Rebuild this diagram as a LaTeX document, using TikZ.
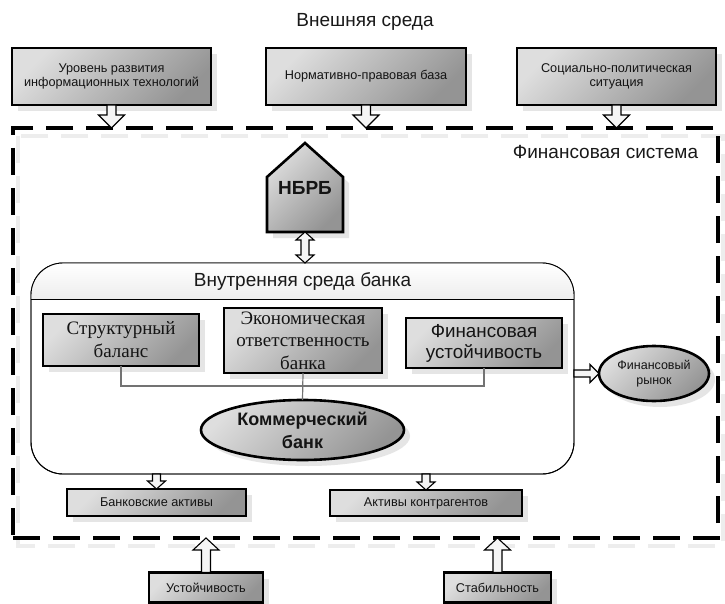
\documentclass[tikz,border=0pt]{standalone}
\usepackage{fontspec}
\setmainfont{Liberation Sans}
\newfontfamily\serifcyr{Liberation Serif}
\usetikzlibrary{calc,shapes.geometric,shadows,backgrounds}
\tikzset{
  shd/.style={drop shadow={shadow xshift=6pt,shadow yshift=-6pt,fill=black!10,opacity=1,draw=none}},
  gbox/.style={draw=black,line width=2.6pt,top color=black!13,bottom color=black!42,shading angle=45,
    shd,align=center,inner sep=1pt,outer sep=0pt,text=black!92},
  gell/.style={gbox,ellipse},
  smalltxt/.style={font=\fontsize{12.7}{13.6}\selectfont},
  titletxt/.style={font=\fontsize{19}{22}\selectfont,text=black!90,inner sep=0pt},
  conn/.style={draw=black!55,line width=1.2pt},
  arr/.style={draw=black,line width=1.1pt,fill=black!4},
  barrow/.style n args={3}{to path={let \p1=(\tikztostart),\p2=(\tikztotarget),
      \n1={atan2(\y2-\y1,\x2-\x1)},\n2={veclen(\x2-\x1,\y2-\y1)} in
      ($(\p1)+(\n1+90:#1)$) -- ($(\p1)+(\n1:\n2-#3)+(\n1+90:#1)$) -- ($(\p1)+(\n1:\n2-#3)+(\n1+90:#2)$)
      -- (\p2) -- ($(\p1)+(\n1:\n2-#3)+(\n1-90:#2)$) -- ($(\p1)+(\n1:\n2-#3)+(\n1-90:#1)$)
      -- ($(\p1)+(\n1-90:#1)$) -- cycle}},
  dbarrow/.style n args={3}{to path={let \p1=(\tikztostart),\p2=(\tikztotarget),
      \n1={atan2(\y2-\y1,\x2-\x1)},\n2={veclen(\x2-\x1,\y2-\y1)} in
      ($(\p1)+(\n1:#3)+(\n1+90:#1)$) -- ($(\p1)+(\n1:\n2-#3)+(\n1+90:#1)$) -- ($(\p1)+(\n1:\n2-#3)+(\n1+90:#2)$)
      -- (\p2) -- ($(\p1)+(\n1:\n2-#3)+(\n1-90:#2)$) -- ($(\p1)+(\n1:\n2-#3)+(\n1-90:#1)$)
      -- ($(\p1)+(\n1:#3)+(\n1-90:#1)$) -- ($(\p1)+(\n1:#3)+(\n1-90:#2)$) -- (\p1)
      -- ($(\p1)+(\n1:#3)+(\n1+90:#2)$) -- cycle}},
  framebox/.style={draw=black,line width=3.6pt,dash pattern=on 27pt off 13pt,inner sep=0pt,outer sep=0pt},
}
\begin{document}
\begin{tikzpicture}[x=1pt,y=-1pt]
\useasboundingbox (0,0) rectangle (725,604);
\begin{scope}[on background layer]
\fill[white] (0,0) rectangle (725,604);
\end{scope}

% dashed frame (financial system)
\draw[black!7,line width=3.6pt,dash pattern=on 27pt off 13pt] (18,136) rectangle (723,546);
\node[framebox,minimum width=705,minimum height=410] (fr) at (365.5,333) {};

% titles
\node[titletxt] (ext) at (365,22) {Внешняя среда};
\node[titletxt] (fs) at (605.5,152) {Финансовая система};

% external factors
\node[gbox,smalltxt,minimum width=199,minimum height=57] (b1) at (111.5,76.5) {Уровень развития\\информационных технологий};
\node[gbox,smalltxt,minimum width=200,minimum height=57] (b2) at (366,76.5) {Нормативно-правовая база};
\node[gbox,smalltxt,minimum width=199,minimum height=57] (b3) at (616.5,76.5) {Социально-политическая\\ситуация};

\draw[arr] (b1.south) to[barrow={4.5pt}{13pt}{13pt}] (b1.south |- fr.north);
\draw[arr] (b2.south) to[barrow={4.5pt}{13pt}{13pt}] (b2.south |- fr.north);
\draw[arr] (b3.south) to[barrow={4.5pt}{13pt}{13pt}] (b3.south |- fr.north);

% NBRB house
\node[minimum width=76,minimum height=89,inner sep=0pt,outer sep=0pt,
      font=\fontsize{19}{22}\selectfont\bfseries,text=black!92] (nbrb) at (305,187.5) {\raisebox{-3pt}{НБРБ}};
\begin{scope}[on background layer]
\draw[line width=2.6pt,top color=black!13,bottom color=black!42,shading angle=45,shd,line join=miter]
  (nbrb.south west) -- ($(nbrb.south west)+(0,-55)$) -- (nbrb.north) -- ($(nbrb.south east)+(0,-55)$)
  -- (nbrb.south east) -- cycle;
\end{scope}

% inner environment of bank
\node[draw=black,line width=0.9pt,rounded corners=32pt,fill=white,minimum width=543,minimum height=211,
      inner sep=0pt,outer sep=0pt] (inner) at (302.5,368.5) {};
\begin{scope}
\clip[rounded corners=32pt] (inner.north west) rectangle (inner.south east);
\shade[top color=white,bottom color=black!7] (inner.north west) rectangle ($(inner.north east)+(0,36)$);
\end{scope}
\draw[line width=0.9pt] ($(inner.north west)+(0,36)$) -- ($(inner.north east)+(0,36)$);
\draw[line width=0.9pt,rounded corners=32pt] (inner.north west) rectangle (inner.south east);
\node[titletxt] (ist) at (302.5,282) {Внутренняя среда банка};

\draw[arr] (nbrb.south) to[dbarrow={4pt}{9pt}{8pt}] (nbrb.south |- inner.north);

% inner boxes
\node[gbox,minimum width=156,minimum height=52,font=\serifcyr\fontsize{19}{23}\selectfont] (s1) at (121,340) {Структурный\\баланс};
\node[gbox,minimum width=158,minimum height=65,font=\serifcyr\fontsize{19}{22.5}\selectfont] (e) at (303,340.5) {Экономическая\\ответственность\\банка};
\node[gbox,minimum width=156,minimum height=50,font=\fontsize{18.8}{21}\selectfont] (s3) at (484,343) {Финансовая\\устойчивость};

\node[gell,minimum width=203,minimum height=60,font=\fontsize{18}{23}\selectfont\bfseries] (kb) at (302.5,430) {Коммерческий\\банк};

\coordinate (hj) at (302.5,386);
\draw[conn] (s1.south) |- (hj) -| (s3.south);
\draw[conn] (e.south) -- (kb.north);

% financial market
\node[gell,minimum width=110,minimum height=55,font=\fontsize{12.5}{15}\selectfont] (finr) at (654,373.5) {Финансовый\\рынок};
\draw[arr] (inner.east |- finr.west) to[barrow={3.5pt}{9pt}{9pt}] (finr.west);

% assets
\node[gbox,smalltxt,minimum width=179,minimum height=27] (ba) at (156.5,502.5) {Банковские активы};
\node[gbox,smalltxt,minimum width=192,minimum height=26] (ak) at (426,503) {Активы контрагентов};
\draw[arr] (ba.north |- inner.south) to[barrow={4pt}{9pt}{8pt}] (ba.north);
\draw[arr] (ak.north |- inner.south) to[barrow={4pt}{9pt}{8pt}] (ak.north);

% stability
\node[gbox,smalltxt,minimum width=114,minimum height=30] (u) at (206,587.5) {Устойчивость};
\node[gbox,smalltxt,minimum width=107,minimum height=30] (st) at (497.5,587.5) {Стабильность};
\draw[arr] (u.north) to[barrow={4.5pt}{13pt}{12pt}] (u.north |- fr.south);
\draw[arr] (st.north) to[barrow={4.5pt}{13pt}{12pt}] (st.north |- fr.south);
\end{tikzpicture}
\end{document}
